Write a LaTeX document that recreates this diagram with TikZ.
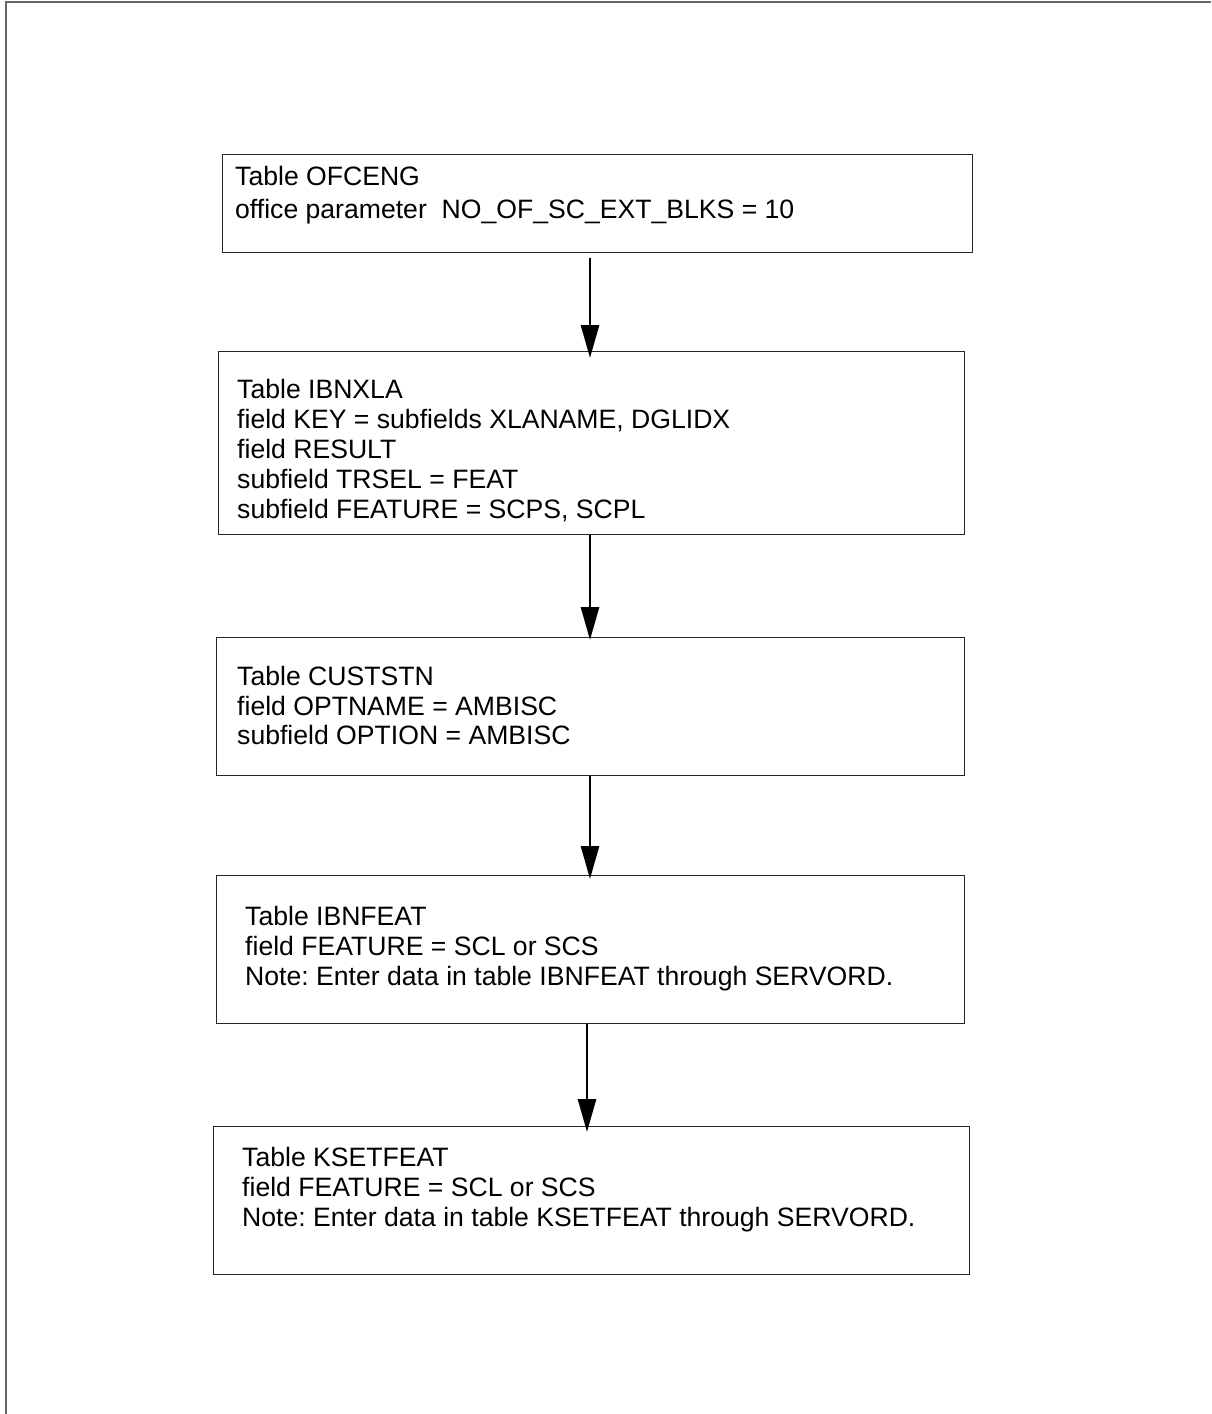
\documentclass[tikz,border=0pt]{standalone}
\usepackage{fontspec}
\setmainfont{Liberation Sans}
\usetikzlibrary{arrows.meta}
\frenchspacing
\begin{document}
\begin{tikzpicture}[x=1pt,y=-1pt,
  boxst/.style={draw=black!85, line width=1.3pt, rectangle, inner sep=0pt, anchor=north west},
  txt/.style={anchor=north west, inner sep=0pt, align=left, font=\fontsize{26.6}{30}\selectfont\frenchspacing},
  flow/.style={line width=2.8pt, -{Triangle[length=33pt,width=18pt]}},
  framest/.style={draw=black!60, line width=2pt}]
\useasboundingbox (0,0) rectangle (1211,1414);
% page frame (top and left edges only)
\coordinate (fa) at (6,1414);
\coordinate (fb) at (6,2);
\coordinate (fc) at (1211,2);
\draw[framest] (fa) -- (fb) -- (fc);
% boxes
\node[boxst, minimum width=750pt, minimum height=98pt] (b1) at (222,154) {};
\node[boxst, minimum width=746pt, minimum height=183pt] (b2) at (218,351) {};
\node[boxst, minimum width=748pt, minimum height=138pt] (b3) at (216,637) {};
\node[boxst, minimum width=748pt, minimum height=148pt] (b4) at (216,875) {};
\node[boxst, minimum width=756pt, minimum height=148pt] (b5) at (213,1126) {};
% texts
\node[txt, font=\fontsize{26.6}{33}\selectfont\frenchspacing] (t1) at (235,166.3) {Table OFCENG\\office parameter\ \ NO\_OF\_SC\_EXT\_BLKS = 10};
\node[txt] (t2) at (237,378.8) {Table IBNXLA\\field KEY = subfields XLANAME, DGLIDX\\field RESULT\\subfield TRSEL = FEAT\\subfield FEATURE = SCPS, SCPL};
\node[txt, font=\fontsize{26.6}{29.5}\selectfont\frenchspacing] (t3) at (237,666.3) {Table CUSTSTN\\field OPTNAME = AMBISC\\subfield OPTION = AMBISC};
\node[txt] (t4) at (245,906.3) {Table IBNFEAT\\field FEATURE = SCL or SCS\\Note: Enter data in table IBNFEAT through SERVORD.};
\node[txt] (t5) at (242,1147.3) {Table KSETFEAT\\field FEATURE = SCL or SCS\\Note: Enter data in table KSETFEAT through SERVORD.};
% connectors
\coordinate (x1) at (590,0);
\coordinate (x4) at (587,0);
\draw[flow, shorten <=5pt, shorten >=-7pt] (b1.south -| x1) -- (b2.north -| x1);
\draw[flow, shorten >=-3pt] (b2.south -| x1) -- (b3.north -| x1);
\draw[flow, shorten >=-4pt] (b3.south -| x1) -- (b4.north -| x1);
\draw[flow, shorten >=-6pt] (b4.south -| x4) -- (b5.north -| x4);
\end{tikzpicture}
\end{document}
